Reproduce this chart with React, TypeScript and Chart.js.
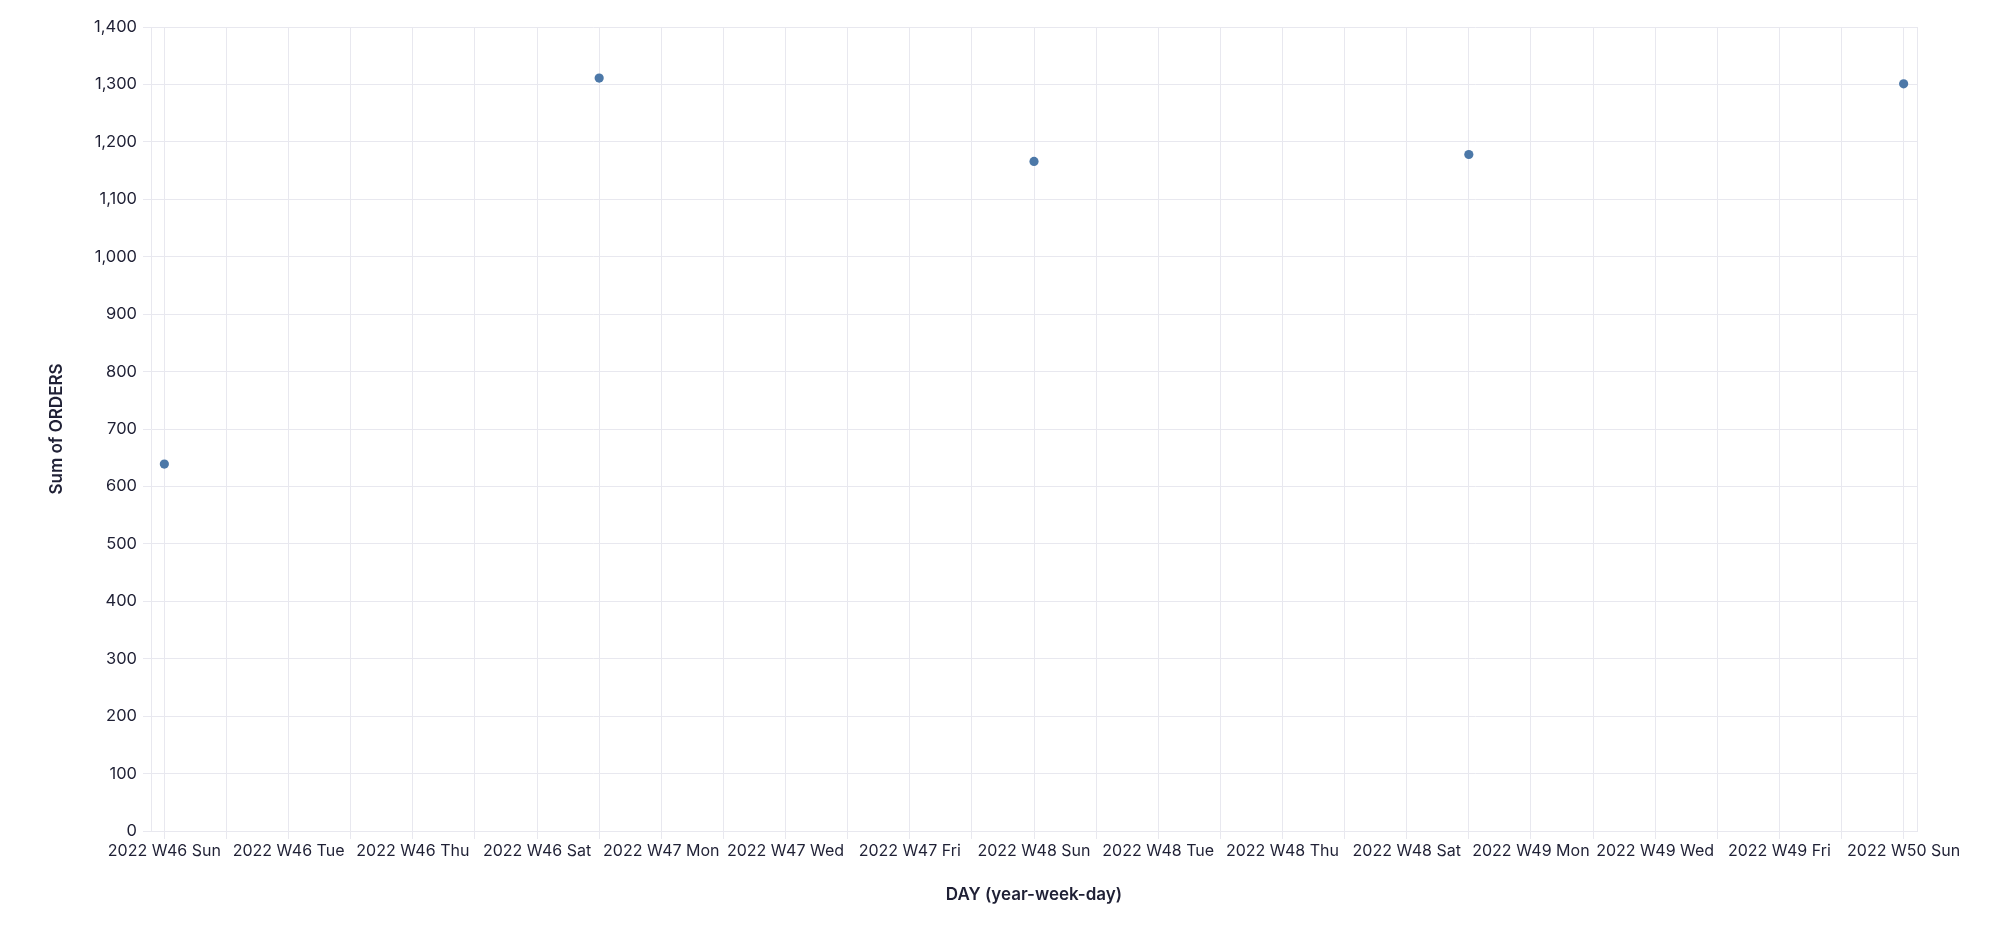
import React, { useEffect, useRef } from "react";
import { Chart, registerables } from "chart.js";

Chart.register(...registerables);

// One tick per day, Sunday-start weeks
const days = [
  "2022 W46 Sun", "2022 W46 Mon", "2022 W46 Tue", "2022 W46 Wed", "2022 W46 Thu", "2022 W46 Fri", "2022 W46 Sat",
  "2022 W47 Sun", "2022 W47 Mon", "2022 W47 Tue", "2022 W47 Wed", "2022 W47 Thu", "2022 W47 Fri", "2022 W47 Sat",
  "2022 W48 Sun", "2022 W48 Mon", "2022 W48 Tue", "2022 W48 Wed", "2022 W48 Thu", "2022 W48 Fri", "2022 W48 Sat",
  "2022 W49 Sun", "2022 W49 Mon", "2022 W49 Tue", "2022 W49 Wed", "2022 W49 Thu", "2022 W49 Fri", "2022 W49 Sat",
  "2022 W50 Sun",
];

// Days that have orders, and the summed orders for each
const orderDays = ["2022 W46 Sun", "2022 W47 Sun", "2022 W48 Sun", "2022 W49 Sun", "2022 W50 Sun"];
const orders = [639, 1311, 1166, 1178, 1301];

const yTicks = [0, 100, 200, 300, 400, 500, 600, 700, 800, 900, 1000, 1100, 1200, 1300, 1400];

const GRID = "#e8e8ef";
const TEXT = "#1f2035";
const FONT = "Inter";

// Outline the right edge of the plot area
const frameRight = {
  id: "frameRight",
  beforeDatasetsDraw(chart: any) {
    const { ctx, chartArea } = chart;
    ctx.save();
    ctx.strokeStyle = GRID;
    ctx.lineWidth = 1;
    ctx.beginPath();
    const x = Math.round(chartArea.right) + 0.5;
    ctx.moveTo(x, chartArea.top);
    ctx.lineTo(x, chartArea.bottom);
    ctx.stroke();
    ctx.restore();
  },
};

export default function App() {
  const canvasRef = useRef<HTMLCanvasElement | null>(null);

  useEffect(() => {
    if (!canvasRef.current) return;
    const points = orderDays.map((d, i) => ({ x: days.indexOf(d), y: orders[i] }));
    const chart = new Chart(canvasRef.current, {
      type: "scatter",
      data: {
        datasets: [
          {
            label: "Sum of ORDERS",
            data: points,
            backgroundColor: "#4c78a8",
            borderWidth: 0,
            pointRadius: 4.6,
            pointHoverRadius: 4.6,
          },
        ],
      },
      options: {
        responsive: false,
        animation: false,
        devicePixelRatio: 1,
        layout: { padding: { top: 27, right: 83, left: 0, bottom: 0 } },
        plugins: {
          legend: { display: false },
          tooltip: { enabled: false },
        },
        scales: {
          x: {
            type: "linear",
            min: -0.215,
            max: days.length - 1 + 0.215,
            afterBuildTicks: (scale: any) => {
              scale.ticks = days.map((_, i) => ({ value: i }));
            },
            afterFit: (scale: any) => {
              scale.height = 103;
            },
            grid: { color: GRID, lineWidth: 1, tickLength: 8, drawTicks: true },
            border: { display: true, color: GRID },
            ticks: {
              autoSkip: false,
              maxRotation: 0,
              minRotation: 0,
              padding: 3,
              color: TEXT,
              font: { family: FONT, size: 16 },
              callback: (v: any) => (Number(v) % 2 === 0 ? days[Number(v)] : ""),
            },
            title: {
              display: true,
              text: "DAY (year-week-day)",
              color: TEXT,
              font: { family: FONT, size: 17, weight: "600" },
              padding: { top: 0, bottom: 29 },
            },
          },
          y: {
            type: "linear",
            min: 0,
            max: 1400,
            afterBuildTicks: (scale: any) => {
              scale.ticks = yTicks.map((v) => ({ value: v }));
            },
            afterFit: (scale: any) => {
              scale.width = 151;
            },
            grid: { color: GRID, lineWidth: 1, tickLength: 8 },
            border: { display: true, color: GRID },
            ticks: {
              padding: 6,
              color: TEXT,
              font: { family: FONT, size: 16.5 },
              callback: (v: any) => Number(v).toLocaleString("en-US"),
            },
            title: {
              display: true,
              text: "Sum of ORDERS",
              color: TEXT,
              font: { family: FONT, size: 17, weight: "600" },
              padding: { top: 47, bottom: 0 },
            },
          },
        },
      },
      plugins: [frameRight],
    });
    return () => chart.destroy();
  }, []);

  return (
    <div style={{ position: "absolute", left: 0, top: 0, width: 2000, height: 934, background: "#ffffff" }}>
      <canvas ref={canvasRef} width={2000} height={934} style={{ width: 2000, height: 934, display: "block" }} />
    </div>
  );
}
